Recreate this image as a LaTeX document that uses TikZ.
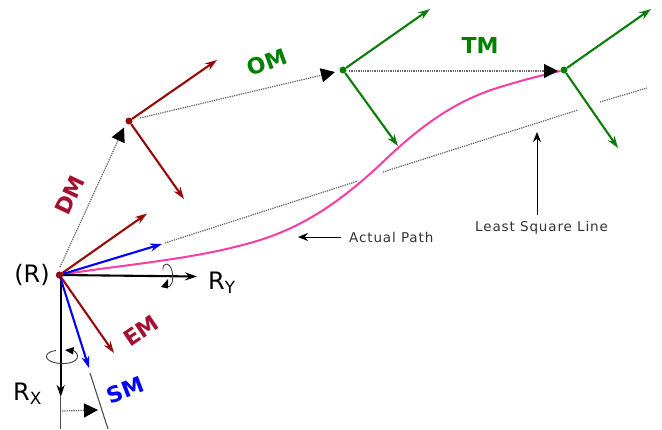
\documentclass[tikz,border=0pt]{standalone}
\usepackage{fontspec}
\setmainfont{DejaVu Sans}
\newfontfamily\spaced[LetterSpace=6.5]{DejaVu Sans}
\usetikzlibrary{arrows.meta}
\definecolor{dred}{RGB}{150,10,10}
\definecolor{lblred}{RGB}{165,15,50}
\definecolor{dgreen}{RGB}{10,125,10}
\definecolor{lblgreen}{RGB}{0,128,0}
\definecolor{pinkp}{RGB}{250,60,165}
\tikzset{
 vec/.style={line width=2.1pt,-{Stealth[length=12pt,width=8pt]}},
 dots/.style={line width=1.2pt,black!60,dash pattern=on 1.3pt off 1pt},
 dotarrow/.style={dots,-{Triangle[black,length=14pt,width=14pt]}},
 thinarrow/.style={line width=1pt,black,-{Stealth[length=10pt,width=8pt]}},
 axis/.style={line width=2.1pt,black,-{Stealth[length=12pt,width=8pt]}},
 lab/.style={font=\bfseries\fontsize{22}{22}\selectfont,inner sep=0pt},
 small/.style={font=\spaced\fontsize{13.5}{15}\selectfont,black!80,inner sep=0pt},
 big/.style={font=\fontsize{24}{26}\selectfont,inner sep=0pt},
 pt/.style={circle,inner sep=0pt,minimum size=7pt},
}
\begin{document}
\begin{tikzpicture}[x=1pt,y=-1pt]
\useasboundingbox (0,0) rectangle (662,429);
\node[pt,fill=dred] (R) at (59.5,275) {};
\node[pt,fill=dred] (A) at (129,121) {};
\node[pt,fill=dgreen] (B) at (343,70) {};
\node[pt,fill=dgreen] (C) at (564,70) {};
\foreach \n/\x/\y in {r1/147/213.5,r2/89/368,r3/114/353,r4/162/244,ry/197/276.5,rx/60.7/397,
  a1/217/60,a2/184/199,b1/430/9,b2/398/146,c1/651/9,c2/618/148,
  ls1/165/243,ls2/358/181,ls3/383/172,ls4/578/110,ls5/600/102,ls6/647/88,
  sm1/90/373,sm2/108/429,rxe/60.7/429,ro/60.7/275,d1/60/267,dt/124/127.5,o1/140/118,ot/335/72,t1/349/71,tt/558/71,
  sq/62/411,st/98/410,ap/341/237,apt/298/237,ll/537/215,llt/537/132}{\coordinate (\n) at (\x,\y);}
% least squares
\draw[dots] (ls1)--(ls2); \draw[dots] (ls3)--(ls4); \draw[dots] (ls5)--(ls6);
% pink path
\draw[pinkp,line width=2pt] (R) .. controls (120,265) and (190,260) .. (250,243)
  .. controls (305,228) and (345,198) .. (385,160)
  .. controls (425,122) and (460,98) .. (507,85)
  .. controls (530,78) and (548,74) .. (C);
% dotted moves
\draw[dotarrow] (d1)--(dt);
\draw[dotarrow] (o1)--(ot);
\draw[dotarrow] (t1)--(tt);
\draw[dotarrow] (sq)--(st);
% vectors
\draw[axis] (ro)--(ry);
\draw[axis] (ro)--(rx);
\draw[vec,dred] (R)--(r1);
\draw[vec,dred] (R)--(r3);
\draw[vec,blue] (R)--(r4);
\draw[vec,blue] (R)--(r2);
\draw[line width=1.4pt,black!70] (rx)--(rxe);
\draw[line width=1.1pt,black!70] (sm1)--(sm2);
\draw[vec,dred] (A)--(a1);
\draw[vec,dred] (A)--(a2);
\draw[vec,dgreen] (B)--(b1);
\draw[vec,dgreen] (B)--(b2);
\draw[vec,dgreen] (C)--(c1);
\draw[vec,dgreen] (C)--(c2);
\node[pt,fill=dred] at (R) {};
% rotation marks
\draw[line width=0.9pt,black!75] (163,270) .. controls (162,262) and (170,262) .. (172,271)
 .. controls (174,280) and (172,288) .. (166,287);
\fill[black] (168,279) -- (161,287) -- (168,288.5) -- cycle;
\draw[line width=0.9pt,black!75] (56,350.5) .. controls (42,352) and (43,363) .. (62,363.5)
 .. controls (80,364) and (81,353) .. (72,350);
\fill[black] (65,350) -- (74,347) -- (73,354.5) -- cycle;
% labels
\node[lab,lblred,rotate=65] (ldm) at (70,195) {DM};
\node[lab,lblgreen,rotate=20] (lom) at (267,62) {OM};
\node[lab,lblgreen] (ltm) at (480,45) {TM};
\node[lab,lblred,rotate=34] (lem) at (141,331) {EM};
\node[lab,blue,rotate=21] (lsm) at (125,390) {SM};
\node[big] (lr) at (32,275) {(R)};
\node[big,anchor=west] (lry) at (208,283) {R\textsubscript{Y}};
\node[big,anchor=west] (lrx) at (13,394) {R\textsubscript{X}};
\node[small,anchor=west] (lap) at (349,237) {Actual Path};
\node[small,anchor=west] (lls) at (475,228) {Least Square Line};
\draw[thinarrow] (ap)--(apt);
\draw[thinarrow] (ll)--(llt);
\end{tikzpicture}
\end{document}
